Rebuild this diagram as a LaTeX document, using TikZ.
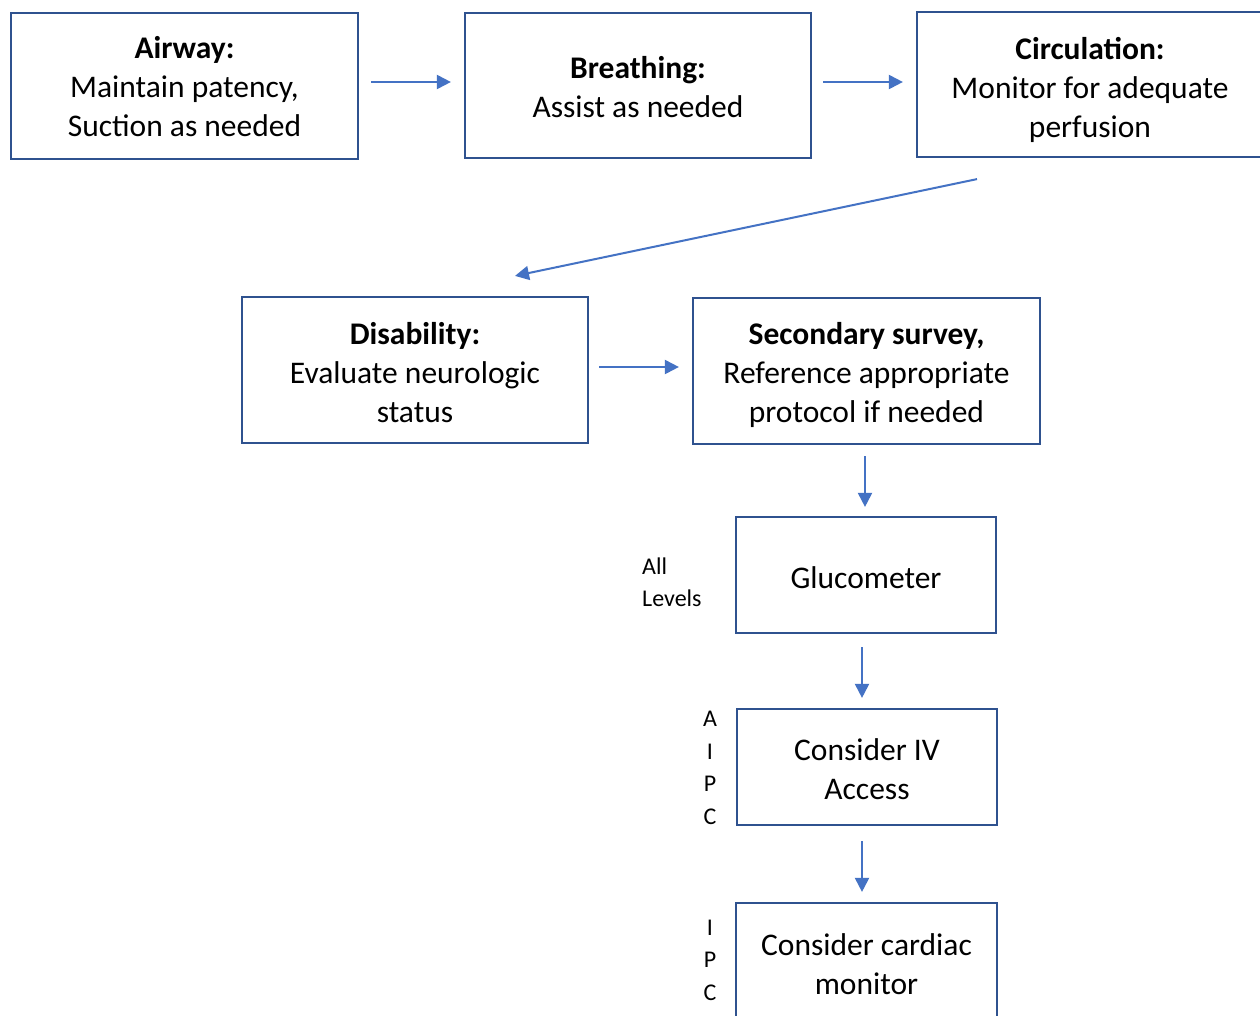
\documentclass[tikz,border=0pt]{standalone}
\usepackage{fontspec}
\setmainfont{Carlito}
\usetikzlibrary{arrows.meta}
\definecolor{boxblue}{HTML}{2F528F}
\definecolor{arrowblue}{HTML}{4472C4}
\tikzset{
  stepbox/.style={draw=boxblue, line width=2.2pt, inner sep=0pt},
  txt/.style={align=center, inner sep=0pt, font=\fontsize{31.5}{39}\selectfont},
  arr/.style={draw=arrowblue, line width=2pt, -{Triangle[length=14pt,width=14pt]}},
  lvl/.style={inner sep=0pt, font=\fontsize{24}{32.5}\selectfont}
}
\begin{document}
\begin{tikzpicture}[x=1pt,y=-1pt]
\useasboundingbox (0,0) rectangle (1260,1015);
\clip (0,0) rectangle (1260,1015);
\fill[white] (0,0) rectangle (1260,1015);

% primary survey
\node[stepbox, minimum width=347pt, minimum height=146pt,
  label={[txt, yshift=-1pt]center:{\textbf{Airway:}\\Maintain patency,\\Suction as needed}}]
  (air) at (184.5,86) {};
\node[stepbox, minimum width=346pt, minimum height=145pt,
  label={[txt, yshift=-2pt]center:{\textbf{Breathing:}\\Assist as needed}}]
  (br) at (638,85.5) {};
\node[stepbox, minimum width=346pt, minimum height=145pt,
  label={[txt, yshift=-5pt]center:{\textbf{Circulation:}\\Monitor for adequate\\perfusion}}]
  (circ) at (1090,84.5) {};
\node[stepbox, minimum width=346pt, minimum height=146pt,
  label={[txt, yshift=-2.5pt]center:{\textbf{Disability:}\\Evaluate neurologic\\status}}]
  (dis) at (415,370) {};
\node[stepbox, minimum width=347pt, minimum height=146pt,
  label={[txt, yshift=-4pt]center:{\textbf{Secondary survey,}\\Reference appropriate\\protocol if needed}}]
  (sec) at (866.5,371) {};

% interventions
\node[stepbox, minimum width=260pt, minimum height=116pt,
  label={[txt, yshift=-3pt]center:{Glucometer}}]
  (glu) at (866,575) {};
\node[stepbox, minimum width=260pt, minimum height=116pt,
  label={[txt, yshift=-2pt]center:{Consider IV\\Access}}]
  (iv) at (867,767) {};
\node[stepbox, minimum width=261pt, minimum height=116pt,
  label={[txt, yshift=-3pt]center:{Consider cardiac\\monitor}}]
  (card) at (866.5,961) {};

% provider levels
\node[lvl, anchor=west, align=left] (lvall) at (642,582) {All\\Levels};
\node[lvl, align=center] (lviv) at (710,768) {A\\I\\P\\C};
\node[lvl, align=center] (lvcard) at (710,960) {I\\P\\C};

% connectors
\draw[arr] ([shift={(12pt,4pt)}]air.east) -- ([shift={(-13pt,3.5pt)}]br.west);
\draw[arr] ([shift={(11pt,3.5pt)}]br.east) -- ([shift={(-13pt,2.5pt)}]circ.west);
\draw[arr] ([shift={(-113pt,-21pt)}]circ.south) -- ([shift={(100pt,20pt)}]dis.north);
\draw[arr] ([shift={(10pt,3pt)}]dis.east) -- ([shift={(-13pt,4pt)}]sec.west);
\draw[arr] ([shift={(-1.5pt,-11pt)}]sec.south) -- ([shift={(-1pt,9pt)}]glu.north);
\draw[arr] ([shift={(-4pt,-13pt)}]glu.south) -- ([shift={(-5pt,10pt)}]iv.north);
\draw[arr] ([shift={(-5pt,-15pt)}]iv.south) -- ([shift={(-4.5pt,10pt)}]card.north);
\end{tikzpicture}
\end{document}
